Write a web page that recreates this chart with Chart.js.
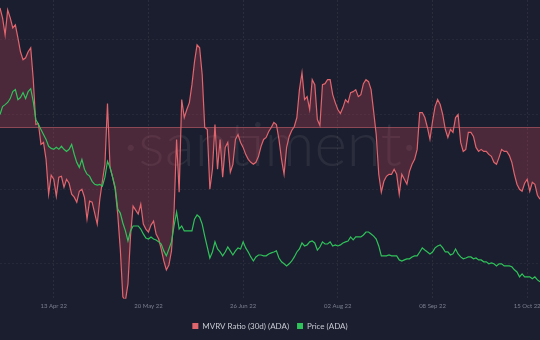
<!DOCTYPE html>
<html><head><meta charset="utf-8">
<script src="https://cdn.jsdelivr.net/npm/chart.js@4.4.0/dist/chart.umd.min.js"></script>
<style>html,body{margin:0;padding:0;background:#1b1e2e;}#wrap{width:540px;height:340px;}</style>
</head><body><div id="wrap"><canvas id="c" width="540" height="340"></canvas></div>
<script>
const tickDates = ['13 Apr 22','20 May 22','26 Jun 22','02 Aug 22','08 Sep 22','15 Oct 22'];
const mvrv = [
24.0,22.0,18.6,23.6,22.0,20.0,20.6,18.0,15.2,13.6,
14.0,15.2,16.0,9.6,0.6,0.8,-3.4,-3.0,-6.4,-13.4,
-9.6,-10.4,-13.8,-10.0,-9.8,-12.0,-10.4,-11.2,-13.4,-14.0,
-15.0,-12.8,-12.4,-14.0,-18.4,-14.8,-15.0,-17.2,-19.4,-14.4,
-10.8,-7.4,4.8,-8.0,-10.0,-12.4,-17.4,-24.4,-34.0,-34.8,
-31.4,-21.8,-15.8,-16.6,-17.4,-15.4,-19.4,-20.4,-21.0,-19.6,-18.8,
-21.4,-22.4,-24.4,-26.8,-28.6,-27.6,-24.8,-17.0,-2.4,-13.0,
5.6,2.0,3.6,5.0,8.6,13.2,16.6,16.0,10.6,0.0,
-0.4,-12.4,-8.4,0.6,-8.4,-2.4,-10.0,-4.0,-3.0,-9.0,
-7.4,-2.4,-1.4,-3.0,-4.0,-5.4,-6.4,-7.0,-7.4,-7.0,
-5.8,-3.8,-2.4,-2.0,-0.8,0.0,1.0,0.6,-2.4,-6.4,
-9.4,-4.0,-1.8,-0.6,0.2,2.0,7.6,11.0,5.6,6.2,
3.6,9.6,8.6,1.6,0.4,8.6,8.8,9.6,9.6,6.6,
5.0,3.6,2.8,4.0,5.6,5.0,7.0,7.2,7.6,6.2,
6.6,8.8,9.6,9.2,7.6,3.2,-1.4,-9.4,-13.0,-10.8,
-9.8,-9.4,-9.4,-8.4,-9.4,-13.4,-9.4,-10.4,-11.4,-8.8,-7.4,
-6.4,-4.4,3.0,3.0,2.0,0.0,-2.4,1.2,4.2,5.6,
4.6,2.6,-0.4,-2.0,-0.4,-1.0,2.0,2.6,-3.0,-4.8,
-4.4,-1.0,-1.0,-1.8,-4.0,-4.8,-4.4,-4.8,-4.8,-5.4,
-5.8,-7.0,-7.4,-6.0,-4.4,-4.8,-4.8,-5.6,-7.0,-9.4,
-11.4,-12.4,-12.8,-11.2,-10.4,-12.8,-11.0,-11.4,-13.6,-14.4
];
const price = [
1.115,1.152,1.161,1.171,1.189,1.222,1.231,1.184,1.194,1.217,
1.189,1.222,1.235,1.175,1.092,1.069,1.045,1.022,0.999,0.967,
0.957,0.953,0.962,0.953,0.967,0.953,0.943,0.953,0.976,0.930,
0.892,0.869,0.906,0.860,0.837,0.828,0.804,0.790,0.786,0.790,
0.781,0.823,0.897,0.869,0.823,0.777,0.675,0.656,0.610,0.573,
0.526,0.573,0.596,0.596,0.596,0.582,0.559,0.540,0.535,0.545,0.535,
0.531,0.522,0.512,0.480,0.457,0.489,0.522,0.596,0.661,0.582,
0.596,0.573,0.573,0.573,0.573,0.628,0.647,0.637,0.605,0.549,
0.498,0.447,0.475,0.522,0.489,0.475,0.457,0.475,0.498,0.480,
0.461,0.480,0.494,0.489,0.522,0.494,0.475,0.452,0.433,0.452,
0.461,0.461,0.457,0.457,0.466,0.471,0.475,0.480,0.447,0.429,
0.420,0.410,0.420,0.433,0.452,0.475,0.489,0.517,0.503,0.508,
0.522,0.526,0.517,0.484,0.498,0.522,0.512,0.512,0.522,0.503,
0.508,0.503,0.508,0.517,0.522,0.526,0.545,0.531,0.545,0.545,
0.545,0.554,0.568,0.568,0.559,0.549,0.535,0.503,0.457,0.457,
0.457,0.461,0.457,0.457,0.457,0.438,0.433,0.438,0.443,0.443,0.452,
0.457,0.457,0.475,0.494,0.484,0.475,0.466,0.475,0.494,0.503,
0.508,0.494,0.475,0.475,0.461,0.466,0.489,0.466,0.452,0.443,
0.447,0.452,0.452,0.443,0.447,0.438,0.438,0.429,0.429,0.420,
0.424,0.420,0.410,0.420,0.420,0.410,0.410,0.410,0.406,0.392,
0.382,0.359,0.373,0.359,0.359,0.359,0.350,0.359,0.345,0.336
];
const months = ['Jan','Feb','Mar','Apr','May','Jun','Jul','Aug','Sep','Oct','Nov','Dec'];
const labels = [];
for (let i = 0; i < mvrv.length; i++) {
  const d = new Date(Date.UTC(2022, 2, 23 + i));
  labels.push(String(d.getUTCDate()).padStart(2,'0') + ' ' + months[d.getUTCMonth()] + ' ' + String(d.getUTCFullYear()).slice(2));
}
const tickIdx = tickDates.map(t => labels.indexOf(t));
const FONT = 'Lato, "Open Sans", sans-serif';

const bgPlugin = {
  id: 'bg',
  beforeDraw(chart) {
    const ctx = chart.ctx;
    ctx.save();
    ctx.fillStyle = '#1b1e2e';
    ctx.fillRect(0, 0, chart.width, chart.height);
    ctx.restore();
  },
  beforeDatasetsDraw(chart) {
    const ctx = chart.ctx, a = chart.chartArea;
    ctx.save();
    ctx.font = '300 62px Lato, "Open Sans", sans-serif';
    ctx.fillStyle = 'rgba(255,255,255,0.07)';
    ctx.textAlign = 'center';
    ctx.textBaseline = 'alphabetic';
    ctx.fillText('·santiment·', (a.left + a.right) / 2, 166);
    const y0 = chart.scales.y.getPixelForValue(0);
    ctx.strokeStyle = 'rgba(220,110,120,0.55)';
    ctx.lineWidth = 1;
    ctx.beginPath();
    ctx.moveTo(a.left, Math.round(y0) + 0.5);
    ctx.lineTo(a.right, Math.round(y0) + 0.5);
    ctx.stroke();
    ctx.restore();
  }
};

new Chart(document.getElementById('c'), {
  type: 'line',
  data: {
    labels: labels,
    datasets: [
      {
        label: 'MVRV Ratio (30d) (ADA)', data: mvrv, yAxisID: 'y',
        borderColor: '#e0656d', backgroundColor: 'rgba(190,65,85,0.30)',
        fill: 'origin', borderWidth: 1.2, pointRadius: 0, tension: 0, order: 1
      },
      {
        label: 'Price (ADA)', data: price, yAxisID: 'y1',
        borderColor: '#30c25a', backgroundColor: '#30c25a',
        fill: false, borderWidth: 1.2, pointRadius: 0, tension: 0, order: 0
      }
    ]
  },
  options: {
    responsive: false, animation: false, devicePixelRatio: 1,
    layout: { padding: { left: 0, right: 0, top: 0, bottom: 0 } },
    plugins: {
      tooltip: { enabled: false },
      legend: {
        position: 'bottom',
        labels: {
          color: '#c8cad3', font: { size: 8, family: FONT }, boxWidth: 6, boxHeight: 6, padding: 8,
          sort: (a, b) => a.datasetIndex - b.datasetIndex,
          generateLabels(chart) {
            const items = Chart.defaults.plugins.legend.labels.generateLabels(chart);
            items.forEach(it => { const ds = chart.data.datasets[it.datasetIndex]; it.fillStyle = ds.borderColor; it.strokeStyle = ds.borderColor; it.lineWidth = 0; });
            return items;
          }
        }
      }
    },
    scales: {
      x: {
        type: 'category', offset: false,
        afterBuildTicks(scale) { scale.ticks = tickIdx.map(v => ({ value: v })); },
        afterFit(scale) { scale.paddingLeft = 0; scale.paddingRight = 0; },
        ticks: { color: '#7a7f8f', font: { size: 6, family: FONT }, maxRotation: 0, minRotation: 0, autoSkip: false, padding: 4 },
        grid: { color: 'rgba(255,255,255,0.07)', drawTicks: false },
        border: { display: false, dash: [2, 2] }
      },
      y: {
        position: 'left', min: -34.4, max: 25.6,
        afterBuildTicks(scale) { scale.ticks = [17.6, 2.6, -12.4, -27.4].map(v => ({ value: v })); },
        ticks: { display: false },
        grid: { color: 'rgba(255,255,255,0.05)', drawTicks: false },
        border: { display: false, dash: [2, 2] }
      },
      y1: { display: false, min: 0.257, max: 1.648 }
    }
  },
  plugins: [bgPlugin]
});
</script>
</body></html>
